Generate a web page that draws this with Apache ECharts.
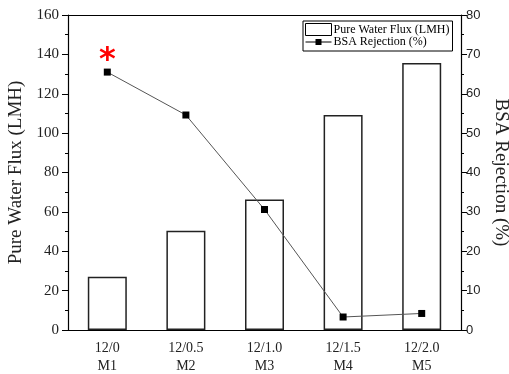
<!DOCTYPE html>
<html><head><meta charset="utf-8">
<script src="https://cdn.jsdelivr.net/npm/echarts@6/dist/echarts.min.js"></script>
<style>html,body{margin:0;padding:0;background:#fff}#c{width:509px;height:374px}</style>
</head><body><div id="c"></div>
<script>
const categories = ['12/0\nM1', '12/0.5\nM2', '12/1.0\nM3', '12/1.5\nM4', '12/2.0\nM5'];
const fluxValues = [27.1, 50.4, 66.3, 109.2, 135.6];
const rejectionValues = [65.5, 54.6, 30.6, 3.3, 4.2];
const fluxTicks = [0, 20, 40, 60, 80, 100, 120, 140, 160];
const rejectionTicks = [0, 10, 20, 30, 40, 50, 60, 70, 80];

const F = 'Liberation Serif, Times New Roman, serif';
const S = 'Liberation Sans, Arial, sans-serif';
const chart = echarts.init(document.getElementById('c'));
const axLine = {show: true, lineStyle: {color: '#000', width: 1.2}};
chart.setOption({
  animation: false,
  grid: {left: 68, right: 48, top: 15, bottom: 44, containLabel: false, outerBoundsMode: 'none'},
  legend: {
    orient: 'vertical', left: 303, top: 21, padding: [2, 3, 3, 2], itemGap: 0,
    itemWidth: 26, itemHeight: 12, borderColor: '#000', borderWidth: 1, borderRadius: 0,
    textStyle: {fontFamily: F, fontSize: 12, color: '#000', padding: [0, 0, 0, -3]},
    data: [
      {name: 'Pure Water Flux (LMH)', icon: 'rect', itemStyle: {color: '#fff', borderColor: '#000', borderWidth: 1}},
      {name: 'BSA Rejection (%)', icon: 'path://M0,5.5 L26,5.5 L26,6.5 L0,6.5 Z M10,3 L16,3 L16,9 L10,9 Z', itemStyle: {color: '#000'}}
    ]
  },
  xAxis: [
    {type: 'category', data: categories, position: 'bottom', axisLine: axLine,
     axisTick: {alignWithLabel: true, length: 6, lineStyle: {color: '#000'}},
     axisLabel: {fontFamily: F, fontSize: 14, color: '#222', margin: 9, lineHeight: 18}},
    {type: 'category', data: categories, position: 'bottom', axisLine: {show: false},
     axisTick: {length: 3, lineStyle: {color: '#000'}}, axisLabel: {show: false}},
    {type: 'category', data: categories, position: 'top', axisLine: axLine,
     axisTick: {show: false}, axisLabel: {show: false}}
  ],
  yAxis: [
    {type: 'value', min: fluxTicks[0], max: fluxTicks[fluxTicks.length - 1], interval: 20,
     position: 'left', axisLine: axLine, splitLine: {show: false},
     axisTick: {show: true, length: 6, lineStyle: {color: '#000'}},
     minorTick: {show: true, splitNumber: 2, length: 3, lineStyle: {color: '#000'}},
     axisLabel: {fontFamily: F, fontSize: 15, color: '#222', margin: 9},
     name: 'Pure Water Flux (LMH)', nameLocation: 'middle', nameGap: 38,
     nameTextStyle: {fontFamily: F, fontSize: 19, color: '#222'}},
    {type: 'value', min: rejectionTicks[0], max: rejectionTicks[rejectionTicks.length - 1], interval: 10,
     position: 'right', axisLine: axLine, splitLine: {show: false},
     axisTick: {show: true, length: 6, lineStyle: {color: '#000'}},
     minorTick: {show: true, splitNumber: 2, length: 3, lineStyle: {color: '#000'}},
     axisLabel: {fontFamily: S, fontSize: 13, color: '#222', margin: 5},
     name: 'BSA Rejection (%)', nameLocation: 'middle', nameGap: 27, nameRotate: -90,
     nameTextStyle: {fontFamily: F, fontSize: 19, color: '#222'}}
  ],
  series: [
    {name: 'Pure Water Flux (LMH)', type: 'bar', xAxisIndex: 0, yAxisIndex: 0, data: fluxValues,
     barWidth: 39, itemStyle: {color: '#fff', borderColor: '#222', borderWidth: 1.5}},
    {name: 'BSA Rejection (%)', type: 'line', xAxisIndex: 0, yAxisIndex: 1,
     data: rejectionValues.map((v, i) => i === 0 ? {value: v, label: {show: true, formatter: '*', position: 'top', distance: -8, color: '#ff0000', fontSize: 32, fontWeight: 'bold', fontFamily: 'DejaVu Sans'}} : v),
     symbol: 'rect', symbolSize: 7, itemStyle: {color: '#000'},
     lineStyle: {color: '#555', width: 1}}
  ]
});
</script></body></html>
